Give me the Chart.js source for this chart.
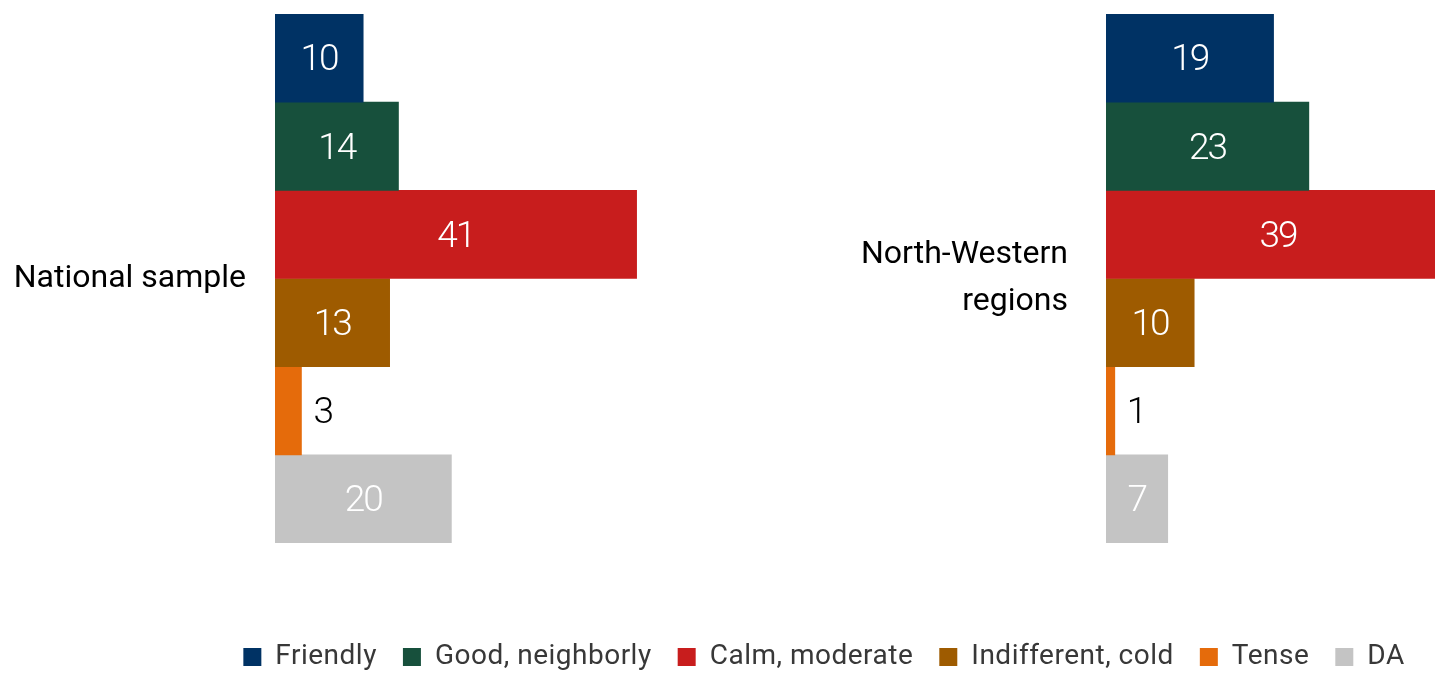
<!DOCTYPE html>
<html>
<head>
<meta charset="utf-8">
<script src="https://cdn.jsdelivr.net/npm/chart.js@4/dist/chart.umd.min.js"></script>
<style>
  html, body { margin: 0; padding: 0; width: 1435px; height: 677px; overflow: hidden; background: #ffffff; }
  canvas { position: absolute; display: block; }
</style>
</head>
<body>
<canvas id="chartNational" width="716" height="560" style="left:0px;top:0px;width:716px;height:560px"></canvas>
<canvas id="chartNorthWest" width="767" height="560" style="left:780px;top:0px;width:767px;height:560px"></canvas>
<canvas id="chartLegend" width="1648" height="200" style="left:0px;top:617px;width:1648px;height:200px"></canvas>
<script>
// ---- data ----
const categories = ['Friendly', 'Good, neighborly', 'Calm, moderate', 'Indifferent, cold', 'Tense', 'DA'];
const nationalLabel = ['National sample'];
const northWesternLabel = [['North-Western', 'regions']];
const nationalValues = [10, 14, 41, 13, 3, 20];
const northWesternValues = [19, 23, 39, 10, 1, 7];

// ---- styles ----
const seriesColors = ['#003264', '#17503C', '#C81D1D', '#9E5B00', '#E56B0B', '#C4C4C4'];
const FONT = 'Roboto, "Noto Sans", sans-serif';

const valueLabels = {
  id: 'valueLabels',
  afterDatasetsDraw(chart) {
    const ctx = chart.ctx;
    ctx.save();
    ctx.font = '300 37px Roboto, sans-serif';
    if ('letterSpacing' in ctx) ctx.letterSpacing = '-2px';
    ctx.textBaseline = 'middle';
    chart.data.datasets.forEach((ds, i) => {
      const meta = chart.getDatasetMeta(i);
      meta.data.forEach((bar, j) => {
        const v = ds.data[j];
        const p = bar.getProps(['x', 'y', 'base'], true);
        if (v < 5) {
          ctx.fillStyle = '#000000';
          ctx.textAlign = 'left';
          ctx.fillText(String(v), p.x + 12, p.y + 3);
        } else {
          ctx.fillStyle = '#ffffff';
          ctx.textAlign = 'center';
          ctx.fillText(String(v), (p.x + p.base) / 2, p.y + 3);
        }
      });
    });
    ctx.restore();
  }
};

const legendSpacing = {
  id: 'legendSpacing',
  beforeUpdate(chart) { if ('letterSpacing' in chart.ctx) chart.ctx.letterSpacing = '0.5px'; },
  beforeDraw(chart) { if ('letterSpacing' in chart.ctx) chart.ctx.letterSpacing = '0.5px'; }
};

function makeDatasets(values) {
  return categories.map((name, i) => ({
    label: name,
    data: values ? [values[i]] : [],
    backgroundColor: seriesColors[i],
    borderWidth: 0,
    categoryPercentage: 1,
    barPercentage: 1
  }));
}

function panel(canvasId, labels, values, axisWidth, tickPad) {
  return new Chart(document.getElementById(canvasId), {
    type: 'bar',
    data: { labels: labels, datasets: makeDatasets(values) },
    options: {
      indexAxis: 'y',
      responsive: false,
      animation: false,
      layout: { padding: { top: 14, bottom: 17, left: 0, right: 0 } },
      plugins: { legend: { display: false }, tooltip: { enabled: false } },
      scales: {
        x: { display: false, min: 0, max: 50 },
        y: {
          grid: { display: false, drawTicks: false },
          border: { display: false },
          ticks: {
            color: '#000000',
            padding: tickPad,
            font: { family: FONT, size: 32, weight: '400', lineHeight: 1.47 }
          },
          afterFit(scale) {
            scale.width = axisWidth;
            scale.paddingTop = 0;
            scale.paddingBottom = 0;
          }
        }
      }
    },
    plugins: [valueLabels]
  });
}

panel('chartNational', nationalLabel, nationalValues, 275, 29);
panel('chartNorthWest', northWesternLabel, northWesternValues, 326, 38);

new Chart(document.getElementById('chartLegend'), {
  type: 'bar',
  data: { labels: [], datasets: makeDatasets(null) },
  options: {
    responsive: false,
    animation: false,
    layout: { padding: 0 },
    scales: { x: { display: false }, y: { display: false } },
    plugins: {
      tooltip: { enabled: false },
      legend: {
        position: 'top',
        align: 'center',
        labels: {
          boxWidth: 18,
          boxHeight: 18,
          padding: 26,
          color: '#383838',
          font: { family: FONT, size: 28, weight: '400' }
        }
      }
    }
  },
  plugins: [legendSpacing]
});
</script>
</body>
</html>
